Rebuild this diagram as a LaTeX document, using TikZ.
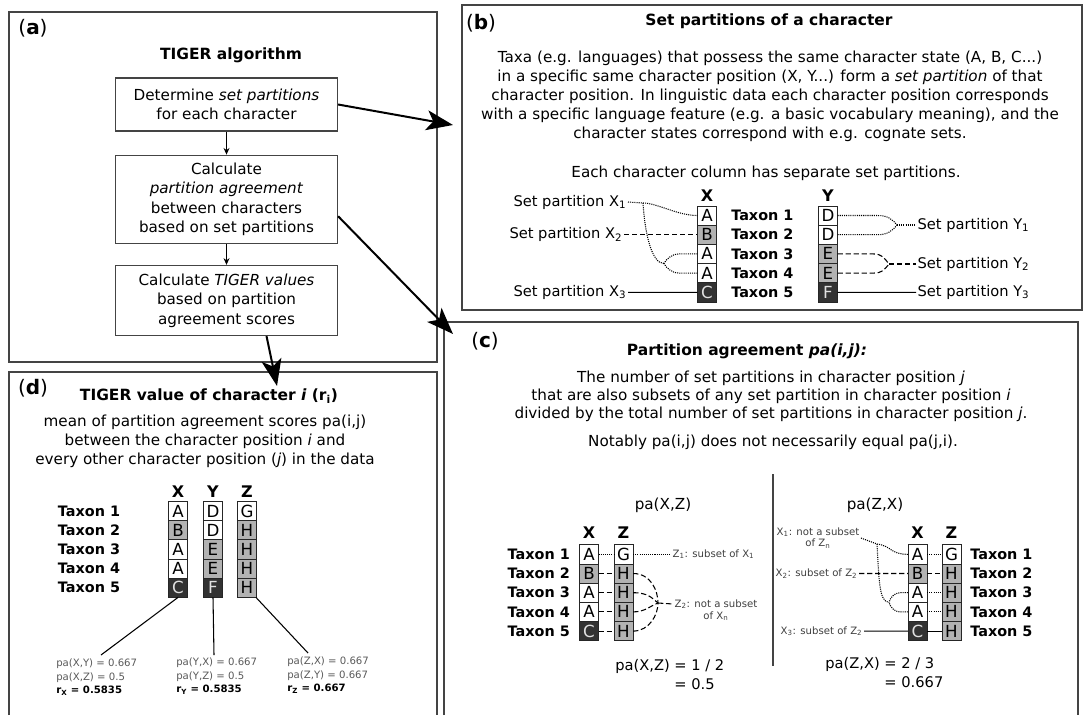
\documentclass[tikz,border=0pt]{standalone}
\usepackage{fontspec}
\setmainfont{DejaVu Sans}
\usetikzlibrary{arrows.meta, positioning}
\definecolor{framegray}{RGB}{68,68,68}
\definecolor{cellgray}{RGB}{178,178,178}
\definecolor{celldark}{RGB}{50,50,50}

\begin{document}
\begin{tikzpicture}[
    x=0.75pt, y=-0.75pt,
    node distance=0pt,
    panel/.style={draw=framegray, line width=1.1pt},
    plabel/.style={font=\fontsize{15}{15}\selectfont, inner sep=0pt},
    ptitle/.style={font=\fontsize{11.6}{14}\selectfont\bfseries, inner sep=0pt},
    body/.style={align=center, font=\fontsize{11.4}{14.2}\selectfont, inner sep=0pt},
    stepbox/.style={rectangle, draw=framegray, line width=0.9pt, minimum width=166.5pt, align=center, font=\fontsize{11.4}{14.6}\selectfont},
    cell/.style={rectangle, draw=black!85, line width=0.6pt, minimum width=14.4pt, minimum height=14.4pt, inner sep=0pt, outer sep=0pt, font=\fontsize{12.5}{12.5}\selectfont},
    cw/.style={cell, fill=white},
    cg/.style={cell, fill=cellgray},
    ck/.style={cell, fill=celldark, text=black!12},
    taxon/.style={font=\fontsize{10.8}{11}\selectfont\bfseries, inner sep=0pt},
    colhead/.style={font=\fontsize{12}{12}\selectfont\bfseries, inner sep=0pt},
    setlab/.style={font=\fontsize{11}{11}\selectfont, inner sep=1pt},
    tinylab/.style={font=\fontsize{7.6}{8.6}\selectfont, text=black!75, inner sep=1pt, align=center},
    eq/.style={font=\fontsize{11}{14.2}\selectfont, align=left, inner sep=0pt},
    score/.style={font=\fontsize{7.6}{10}\selectfont, text=black!65, align=left, inner sep=0pt},
    dotln/.style={dash pattern=on 0.8pt off 0.8pt, line width=0.8pt},
    dashln/.style={dash pattern=on 4pt off 2pt, line width=0.8pt},
    solidln/.style={line width=0.8pt},
    bigarrow/.style={-{Stealth[length=20pt, width=15pt, inset=5pt]}, line width=1.5pt},
    smallarrow/.style={-{Stealth[length=5pt, width=4.5pt]}, line width=0.7pt},
]

\path[fill=white, use as bounding box] (0,0) rectangle (1088,715);

% Panels
\draw[panel] (9,12) rectangle (437,362);
\draw[panel] (462,5) rectangle (1082,310);
\draw[panel] (444,715) |- (1078,322) -- (1078,715);
\draw[panel] (9,715) |- (437,372) -- (437,715);

% (a) TIGER algorithm
\node[plabel] (la) at (33,28) {(\textbf{a})};
\node[ptitle] (ta) at (231,55) {TIGER algorithm};
\node[stepbox, minimum height=39.75pt] (s1) at (226.5,104.5) {Determine \textit{set partitions}\\for each character};
\node[stepbox, minimum height=66pt, below=17.25pt of s1] (s2) {Calculate\\\textit{partition agreement}\\between characters\\based on set partitions};
\node[stepbox, minimum height=52.5pt, below=15.75pt of s2] (s3) {Calculate \textit{TIGER values}\\based on partition\\agreement scores};

\draw[smallarrow] (s1) -- (s2);
\draw[smallarrow] (s2) -- (s3);

% Arrows to the other panels
\coordinate (bin) at (453,125);
\coordinate (cin) at (453,334);
\coordinate (din) at (277,386);
\draw[bigarrow] (s1.east) -- (bin);
\draw[bigarrow] ([yshift=-12.75pt]s2.east) -- (cin);
\draw[bigarrow] ([xshift=30pt]s3.south) -- (din);

% (b) Set partitions
\node[plabel] (lb) at (481,23) {(\textbf{b})};
\node[ptitle] (tb) at (769,21) {Set partitions of a character};
\node[body] (db) at (770,96) {Taxa (e.g. languages) that possess the same character state (A, B, C...)\\in a specific same character position (X, Y...) form a \textit{set partition} of that\\character position. In linguistic data each character position corresponds\\with a specific language feature (e.g. a basic vocabulary meaning), and the\\character states correspond with e.g. cognate sets.};
\node[body] (eb) at (766,173) {Each character column has separate set partitions.};

\node[colhead] (hbx) at (707,196) {X};
\node[colhead] (hby) at (828,196) {Y};
\node[cw] (bx1) at (707,215.5) {A};
\node[cg, below=of bx1] (bx2) {B};
\node[cw, below=of bx2] (bx3) {A};
\node[cw, below=of bx3] (bx4) {A};
\node[ck, below=of bx4] (bx5) {C};
\node[cw] (by1) at (828,215.5) {D};
\node[cw, below=of by1] (by2) {D};
\node[cg, below=of by2] (by3) {E};
\node[cg, below=of by3] (by4) {E};
\node[ck, below=of by4] (by5) {F};

\node[taxon, right=10.8pt of bx1] (tb1) {Taxon 1};
\node[taxon, right=10.8pt of bx2] (tb2) {Taxon 2};
\node[taxon, right=10.8pt of bx3] (tb3) {Taxon 3};
\node[taxon, right=10.8pt of bx4] (tb4) {Taxon 4};
\node[taxon, right=10.8pt of bx5] (tb5) {Taxon 5};

\node[setlab, anchor=east] (px1) at (628,202) {Set partition X\textsubscript{1}};
\node[setlab, anchor=east] (px2) at (624,234.7) {Set partition X\textsubscript{2}};
\node[setlab, anchor=east] (px3) at (628,292.3) {Set partition X\textsubscript{3}};
\node[setlab, anchor=west] (py1) at (916,225) {Set partition Y\textsubscript{1}};
\node[setlab, anchor=west] (py2) at (916,264) {Set partition Y\textsubscript{2}};
\node[setlab, anchor=west] (py3) at (916,292.3) {Set partition Y\textsubscript{3}};

\coordinate (jx1) at (643,203);
\coordinate (kx1) at (664,263.5);
\coordinate (ky1) at (897,225);
\coordinate (ky2) at (889,264);
\draw[dotln] (px1.east) -- (jx1) .. controls +(14,0) and +(-20,0) .. (bx1.west);
\draw[dotln] (jx1) .. controls +(2,32) and +(-12,0) .. (kx1);
\draw[dotln] (bx3.west) -- ++(-18,0) .. controls +(-8,0) and +(2,-4) .. (kx1);
\draw[dotln] (bx4.west) -- ++(-18,0) .. controls +(-8,0) and +(2,4) .. (kx1);
\draw[dashln] (px2.east) -- (bx2.west);
\draw[solidln] (px3.east) -- (bx5.west);

\draw[dotln] (by1.east) -- ++(40,0) .. controls +(10,0) and +(-5,-6) .. (ky1);
\draw[dotln] (by2.east) -- ++(40,0) .. controls +(10,0) and +(-5,6) .. (ky1);
\draw[dotln] (ky1) -- (py1.west);
\draw[dashln] (by3.east) -- ++(35,0) .. controls +(10,0) and +(-5,-6) .. (ky2);
\draw[dashln] (by4.east) -- ++(35,0) .. controls +(10,0) and +(-5,6) .. (ky2);
\draw[dashln] (ky2) -- (py2.west);
\draw[solidln] (by5.east) -- (py3.west);

% (c) Partition agreement
\node[plabel] (lc) at (485,341) {(\textbf{c})};
\node[ptitle] (tc) at (747,351) {Partition agreement \textit{pa(i,j):}};
\node[body, font=\fontsize{11.4}{13.6}\selectfont] (dc) at (771,396) {The number of set partitions in character position \textit{j}\\that are also subsets of any set partition in character position \textit{i}\\divided by the total number of set partitions in character position \textit{j}.};
\node[body] (nc) at (773,442) {Notably pa(i,j) does not necessarily equal pa(j,i).};
\coordinate (vtop) at (773,474);
\coordinate (vbot) at (773,666);
\draw[panel] (vtop) -- (vbot);

% (c) left: pa(X,Z)
\node[body] (hxz) at (663,505) {pa(X,Z)};
\node[colhead] (hcx) at (589,533) {X};
\node[colhead] (hcz) at (623.5,533) {Z};
\node[cw] (cx1) at (589,554.3) {A};
\node[cg, below=of cx1] (cx2) {B};
\node[cw, below=of cx2] (cx3) {A};
\node[cw, below=of cx3] (cx4) {A};
\node[ck, below=of cx4] (cx5) {C};
\node[cw] (cz1) at (623.5,554.3) {G};
\node[cg, below=of cz1] (cz2) {H};
\node[cg, below=of cz2] (cz3) {H};
\node[cg, below=of cz3] (cz4) {H};
\node[cg, below=of cz4] (cz5) {H};

\node[taxon, left=7pt of cx1] (tc1) {Taxon 1};
\node[taxon, left=7pt of cx2] (tc2) {Taxon 2};
\node[taxon, left=7pt of cx3] (tc3) {Taxon 3};
\node[taxon, left=7pt of cx4] (tc4) {Taxon 4};
\node[taxon, left=7pt of cx5] (tc5) {Taxon 5};

\draw[dotln] (cx1.east) -- (cz1.west);
\draw[dashln] (cx2.east) -- (cz2.west);
\draw[dashln] (cx3.east) -- (cz3.west);
\draw[dashln] (cx4.east) -- (cz4.west);
\draw[dashln] (cx5.east) -- (cz5.west);

\node[tinylab, anchor=west] (zl1) at (671,554.3) {Z\textsubscript{1}: subset of X\textsubscript{1}};
\node[tinylab, anchor=west] (zl2) at (673,604) {Z\textsubscript{2}: not a subset};
\node[tinylab, below=0pt of zl2] (zl2b) {of X\textsubscript{n}};
\coordinate (kz2) at (658,603);
\draw[dotln] (cz1.east) -- (zl1.west);
\draw[dashln] (cz2.east) .. controls +(18,0) and +(0,-12) .. (kz2);
\draw[dashln] (cz3.east) .. controls +(15,0) and +(-6,-5) .. (kz2);
\draw[dashln] (cz4.east) .. controls +(12,0) and +(-8,3) .. (kz2);
\draw[dashln] (cz5.east) .. controls +(16,0) and +(0,12) .. (kz2);
\draw[dashln] (kz2) -- (zl2.west);

\node[eq, anchor=west] (exz) at (615,675.5) {pa(X,Z) = 1 / 2\\\phantom{pa(X,Z) }= 0.5};

% (c) right: pa(Z,X)
\node[body] (hzx) at (875,505) {pa(Z,X)};
\node[colhead] (hrx) at (917.5,533) {X};
\node[colhead] (hrz) at (951.5,533) {Z};
\node[cw] (rx1) at (917.5,554.3) {A};
\node[cg, below=of rx1] (rx2) {B};
\node[cw, below=of rx2] (rx3) {A};
\node[cw, below=of rx3] (rx4) {A};
\node[ck, below=of rx4] (rx5) {C};
\node[cw] (rz1) at (951.5,554.3) {G};
\node[cg, below=of rz1] (rz2) {H};
\node[cg, below=of rz2] (rz3) {H};
\node[cg, below=of rz3] (rz4) {H};
\node[cg, below=of rz4] (rz5) {H};

\node[taxon, right=6.7pt of rz1] (tr1) {Taxon 1};
\node[taxon, right=6.7pt of rz2] (tr2) {Taxon 2};
\node[taxon, right=6.7pt of rz3] (tr3) {Taxon 3};
\node[taxon, right=6.7pt of rz4] (tr4) {Taxon 4};
\node[taxon, right=6.7pt of rz5] (tr5) {Taxon 5};

\draw[dotln] (rx1.east) -- (rz1.west);
\draw[dashln] (rx2.east) -- (rz2.west);
\draw[dotln] (rx3.east) -- (rz3.west);
\draw[dotln] (rx4.east) -- (rz4.west);
\draw[solidln] (rx5.east) -- (rz5.west);

\node[tinylab] (xl1) at (818,538) {X\textsubscript{1}: not a subset\\of Z\textsubscript{n}};
\node[tinylab, anchor=east] (xl2) at (859,573.5) {X\textsubscript{2}: subset of Z\textsubscript{2}};
\node[tinylab, anchor=east] (xl3) at (864,631.1) {X\textsubscript{3}: subset of Z\textsubscript{2}};
\coordinate (jr1) at (877,544);
\coordinate (kr1) at (889,602.3);
\draw[dotln] (xl1.east) -- (jr1) .. controls +(15,2) and +(-18,0) .. (rx1.west);
\draw[dotln] (jr1) .. controls +(2,35) and +(-10,0) .. (kr1);
\draw[dotln] (rx3.west) -- ++(-8,0) .. controls +(-6,0) and +(1,-4) .. (kr1);
\draw[dotln] (rx4.west) -- ++(-8,0) .. controls +(-6,0) and +(1,4) .. (kr1);
\draw[dashln] (xl2.east) -- (rx2.west);
\draw[solidln] (xl3.east) -- (rx5.west);

\node[eq, anchor=west] (ezx) at (825,674) {pa(Z,X) = 2 / 3\\\phantom{pa(Z,X) }= 0.667};

% (d) TIGER value
\node[plabel] (ld) at (33,388) {(\textbf{d})};
\node[ptitle] (td) at (209,396) {TIGER value of character \textit{i} (r\textsubscript{i})};
\node[body] (dd) at (205,441) {mean of partition agreement scores pa(i,j)\\between the character position \textit{i} and\\every other character position (\textit{j}) in the data};

\node[colhead] (hdx) at (178,492) {X};
\node[colhead] (hdy) at (213,492) {Y};
\node[colhead] (hdz) at (247,492) {Z};
\node[cw] (dx1) at (178,511) {A};
\node[cg, below=of dx1] (dx2) {B};
\node[cw, below=of dx2] (dx3) {A};
\node[cw, below=of dx3] (dx4) {A};
\node[ck, below=of dx4] (dx5) {C};
\node[cw] (dy1) at (213,511) {D};
\node[cw, below=of dy1] (dy2) {D};
\node[cg, below=of dy2] (dy3) {E};
\node[cg, below=of dy3] (dy4) {E};
\node[ck, below=of dy4] (dy5) {F};
\node[cw] (dz1) at (247,511) {G};
\node[cg, below=of dz1] (dz2) {H};
\node[cg, below=of dz2] (dz3) {H};
\node[cg, below=of dz3] (dz4) {H};
\node[cg, below=of dz4] (dz5) {H};

\node[taxon, left=36pt of dx1] (td1) {Taxon 1};
\node[taxon, left=36pt of dx2] (td2) {Taxon 2};
\node[taxon, left=36pt of dx3] (td3) {Taxon 3};
\node[taxon, left=36pt of dx4] (td4) {Taxon 4};
\node[taxon, left=36pt of dx5] (td5) {Taxon 5};

\node[score, anchor=north west] (rsx) at (56,659) {pa(X,Y) = 0.667\\pa(X,Z) = 0.5\\\textcolor{black}{\textbf{r\textsubscript{X} = 0.5835}}};
\node[score, anchor=north west] (rsy) at (176,658) {pa(Y,X) = 0.667\\pa(Y,Z) = 0.5\\\textcolor{black}{\textbf{r\textsubscript{Y} = 0.5835}}};
\node[score, anchor=north west] (rsz) at (287,657) {pa(Z,X) = 0.667\\pa(Z,Y) = 0.667\\\textcolor{black}{\textbf{r\textsubscript{Z} = 0.667}}};

\coordinate (ex) at (101,655);
\coordinate (ey) at (214,655);
\coordinate (ez) at (308,653);
\draw[solidln] (dx5.south) -- (ex);
\draw[solidln] (dy5.south) -- (ey);
\draw[solidln] (dz5) -- (ez);

\end{tikzpicture}
\end{document}
